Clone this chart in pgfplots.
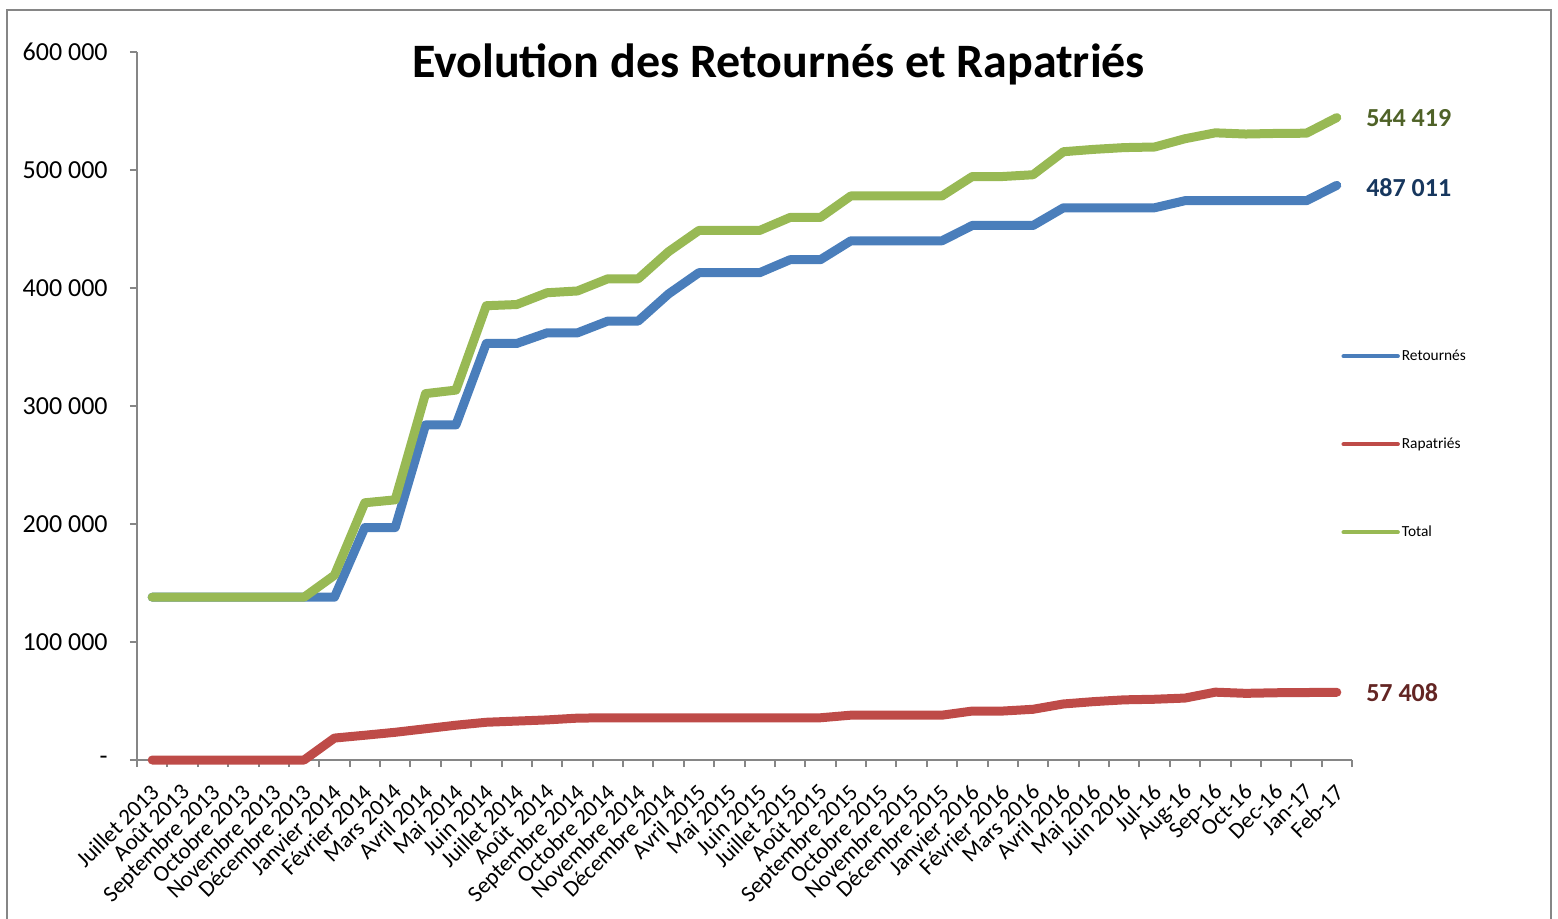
\documentclass[border=0pt]{standalone}
\usepackage{pgfplots}
\pgfplotsset{compat=1.18}
\usepackage{pgfplotstable}
\usepackage{fontspec}
\setmainfont{Carlito}
\definecolor{cblue}{HTML}{4A7EBB}
\definecolor{cred}{HTML}{BE4B48}
\definecolor{cgreen}{HTML}{98B954}
\definecolor{lgreen}{HTML}{4F6228}
\definecolor{lblue}{HTML}{17375E}
\definecolor{lred}{HTML}{632523}
\definecolor{axgray}{HTML}{868686}

\pgfplotstableread{
i ret rap tot
0 138000 0 138000
1 138000 0 138000
2 138000 0 138000
3 138000 0 138000
4 138000 0 138000
5 138000 0 138000
6 138000 18600 156600
7 197000 21000 218000
8 197000 23500 220500
9 284000 26500 310500
10 284000 29500 313500
11 353000 32000 385000
12 353000 33000 386000
13 362000 34000 396000
14 362000 35500 397500
15 372000 35800 407800
16 372000 35800 407800
17 395000 35800 430800
18 413000 35800 448800
19 413000 35800 448800
20 413000 35800 448800
21 424000 35800 459800
22 424000 35800 459800
23 440000 38000 478000
24 440000 38000 478000
25 440000 38000 478000
26 440000 38000 478000
27 453000 41500 494500
28 453000 41500 494500
29 453000 43000 496000
30 468000 47500 515500
31 468000 49500 517500
32 468000 51000 519000
33 468000 51500 519500
34 474000 52500 526500
35 474000 57500 531500
36 474000 56500 530500
37 474000 57000 531000
38 474000 57200 531200
39 487011 57408 544419
}\data

\begin{document}
\begin{tikzpicture}[x=1pt,y=1pt]
\path[use as bounding box] (0,0) rectangle (779,-459);
\draw[axgray, line width=1pt] (3.5,-5) rectangle (775.5,-480);
\begin{axis}[
  at={(68.5pt,-380pt)}, anchor=south west,
  scale only axis, width=607.5pt, height=354pt,
  xmin=-0.5, xmax=39.5, ymin=0, ymax=600000,
  clip=false,
  axis x line*=bottom, axis y line*=left,
  axis line style={axgray, line width=1pt},
  tick align=outside,
  tick style={axgray, line width=1pt},
  major tick length=3.5pt, minor tick length=3.5pt,
  xtick={0,...,39},
  major x tick style={draw=none},
  minor xtick={-0.5,0.5,...,39.5},
  xticklabels={Juillet 2013, Août 2013, Septembre 2013, Octobre 2013, Novembre 2013, Décembre 2013, Janvier 2014, Février 2014, Mars 2014, Avril 2014, Mai 2014, Juin 2014, Juillet 2014, Août\ \ 2014, Septembre 2014, Octobre 2014, Novembre 2014, Décembre 2014, Avril 2015, Mai 2015, Juin 2015, Juillet 2015, Août 2015, Septembre 2015, Octobre 2015, Novembre 2015, Décembre 2015, Janvier 2016, Février 2016, Mars 2016, Avril 2016, Mai 2016, Juin 2016, Jul-16, Aug-16, Sep-16, Oct-16, Dec-16, Jan-17, Feb-17},
  ytick={0,100000,...,600000},
  yticklabels={-\hspace{8pt}, 100 000, 200 000, 300 000, 400 000, 500 000, 600 000},
  scaled y ticks=false,
  yticklabel style={font=\fontsize{13}{15}\selectfont, anchor=east, inner sep=0pt, xshift=-11pt},
  xticklabel style={font=\fontsize{11.5}{13}\selectfont, xshift=-1.5pt, yshift=-7.5pt, rotate=45, anchor=north east, inner sep=0pt},
  title={Evolution des Retournés et Rapatriés},
  title style={at={(0.528,0.963)}, anchor=base, yshift=-5.5pt, font=\bfseries\fontsize{24}{28}\selectfont},
  every axis plot/.append style={line width=4.5pt, line cap=round, line join=round},
  legend style={at={(0.991,0.446)}, anchor=west, draw=none, fill=none, inner sep=0pt,
    font=\fontsize{7.7}{9}\selectfont, row sep=35pt,
    nodes={inner sep=1pt, text height=5.5pt, text depth=1.5pt}},
  legend cell align=left,
  legend image code/.code={\draw[#1, line width=2.2pt, line cap=round] (0pt,0pt) -- (27pt,0pt);},
]
\addplot[cblue] table[x=i,y=ret]{\data}
  node[pos=1, anchor=west, inner sep=0pt, xshift=12.5pt, yshift=-1pt, text=lblue, font=\bfseries\fontsize{13}{15}\selectfont] {487 011};
\addlegendentry{Retournés}
\addplot[cred] table[x=i,y=rap]{\data}
  node[pos=1, anchor=west, inner sep=0pt, xshift=12.5pt, text=lred, font=\bfseries\fontsize{13}{15}\selectfont] {57 408};
\addlegendentry{Rapatriés}
\addplot[cgreen] table[x=i,y=tot]{\data}
  node[pos=1, anchor=west, inner sep=0pt, xshift=12.5pt, text=lgreen, font=\bfseries\fontsize{13}{15}\selectfont] {544 419};
\addlegendentry{Total}
\end{axis}
\end{tikzpicture}
\end{document}
